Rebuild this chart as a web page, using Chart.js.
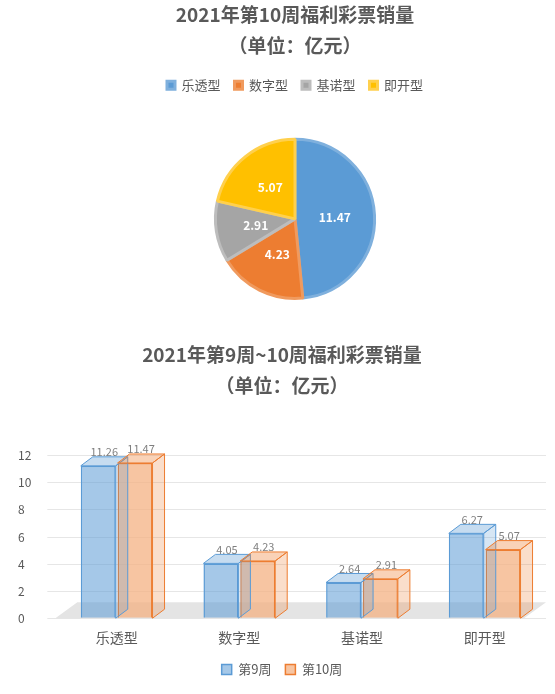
<!DOCTYPE html>
<html><head><meta charset="utf-8">
<script src="https://cdn.jsdelivr.net/npm/chart.js@4/dist/chart.umd.min.js"></script>
<style>body{margin:0;background:#fff;font-family:"Noto Sans CJK SC";}
#a{position:absolute;left:0;top:0;width:555px;height:320px}
#b{position:absolute;left:0;top:334px;width:555px;height:360px}</style>
</head><body>
<div id="a"><canvas id="c1"></canvas></div>
<div id="b"><canvas id="c2"></canvas></div>
<script>
const categories=["乐透型","数字型","基诺型","即开型"];
const week10=[11.47,4.23,2.91,5.07];
const week9=[11.26,4.05,2.64,6.27];
const seriesNames=["第9周","第10周"];
const pieColors=["#5B9BD5","#ED7D31","#A5A5A5","#FFC000"];
const font="'Noto Sans CJK SC'";
Chart.defaults.font.family=font;
Chart.defaults.color="#595959";

new Chart(document.getElementById('c1'),{type:'pie',
data:{labels:categories,datasets:[{data:week10,backgroundColor:pieColors,borderColor:["#7FB0DD","#F09A5E","#BDBDBD","#FFD04D"],borderWidth:3}]},
options:{responsive:true,maintainAspectRatio:false,animation:false,
layout:{padding:{top:0,bottom:20,left:35}},
plugins:{title:{display:true,text:["2021年第10周福利彩票销量","（单位：亿元）"],font:{size:19,weight:'bold',lineHeight:1.6},color:'#595959',padding:{top:0,bottom:4}},
legend:{position:'top',labels:{boxWidth:8,boxHeight:8,font:{size:13},padding:14}},tooltip:{enabled:false}}},
plugins:[{id:'lg',afterInit(ch){const lg=ch.legend;const of=lg.fit;lg.fit=function(){of.call(this);this.height+=36;};}},
{id:'lbl',afterDatasetsDraw(ch){const ctx=ch.ctx;ch.getDatasetMeta(0).data.forEach((el,i)=>{const p=el.tooltipPosition();ctx.save();ctx.fillStyle='#fff';ctx.font="bold 12px "+font;ctx.textAlign='center';ctx.textBaseline='middle';ctx.fillText(week10[i].toFixed(2),p.x,p.y);ctx.restore();});}}]
});

const three={id:'three',afterDatasetsDraw(ch){const ctx=ch.ctx;const dx=12,dy=-9;
const y0=ch.scales.y.getPixelForValue(0);
ch.data.datasets.forEach((ds,di)=>{const meta=ch.getDatasetMeta(di);const col=di==0?'91,155,213':'237,125,49';
meta.data.forEach((el,i)=>{const l=el.x-el.width/2,r=el.x+el.width/2,t=el.y,b=y0;
ctx.save();ctx.strokeStyle='rgb('+col+')';ctx.lineWidth=1;
ctx.fillStyle='rgba('+col+',0.35)';
ctx.beginPath();ctx.moveTo(l,t);ctx.lineTo(l+dx,t+dy);ctx.lineTo(r+dx,t+dy);ctx.lineTo(r,t);ctx.closePath();ctx.fill();ctx.stroke();
ctx.fillStyle='rgba('+col+',0.25)';
ctx.beginPath();ctx.moveTo(r,t);ctx.lineTo(r+dx,t+dy);ctx.lineTo(r+dx,b+dy);ctx.lineTo(r,b);ctx.closePath();ctx.fill();ctx.stroke();
ctx.fillStyle='#7F7F7F';ctx.font="11px "+font;ctx.textAlign='center';
ctx.fillText(ds.data[i].toFixed(2),el.x+dx/2,t+dy-5);ctx.restore();});});}};
const floor={id:'floor',beforeDatasetsDraw(ch){const ctx=ch.ctx;const y0=ch.scales.y.getPixelForValue(0);const a=ch.chartArea;
ctx.save();ctx.fillStyle='#E4E4E4';ctx.beginPath();ctx.moveTo(a.left,y0);ctx.lineTo(a.left+22,y0-16);ctx.lineTo(a.right,y0-16);ctx.lineTo(a.right-22,y0);ctx.closePath();ctx.fill();ctx.restore();}};

new Chart(document.getElementById('c2'),{type:'bar',
data:{labels:categories,datasets:[
{label:seriesNames[0],data:week9,backgroundColor:'rgba(91,155,213,0.55)',borderColor:'#5B9BD5',borderWidth:1.5},
{label:seriesNames[1],data:week10,backgroundColor:'rgba(244,177,131,0.75)',borderColor:'#ED7D31',borderWidth:1.5}]},
options:{responsive:true,maintainAspectRatio:false,animation:false,
layout:{padding:{right:9,left:18}},
datasets:{bar:{categoryPercentage:0.6,barPercentage:0.95}},
scales:{y:{min:0,max:12,afterFit(s){s.width+=10;},ticks:{stepSize:2,crossAlign:'far',font:{size:12},color:'#595959'},grid:{color:'#E6E6E6'},border:{display:false}},
x:{grid:{display:false},ticks:{font:{size:14},color:'#595959'},border:{display:false}}},
plugins:{title:{display:true,text:["2021年第9周~10周福利彩票销量","（单位：亿元）"],font:{size:19,weight:'bold',lineHeight:1.6},color:'#595959',padding:{top:6,bottom:55}},
legend:{position:'bottom',labels:{boxWidth:10,boxHeight:10,font:{size:13},padding:14}},tooltip:{enabled:false}}},
plugins:[floor,three,{id:'lg2',afterInit(ch){const lg=ch.legend;const of=lg.fit;lg.fit=function(){of.call(this);this.height+=8;};}}]});
</script></body></html>
